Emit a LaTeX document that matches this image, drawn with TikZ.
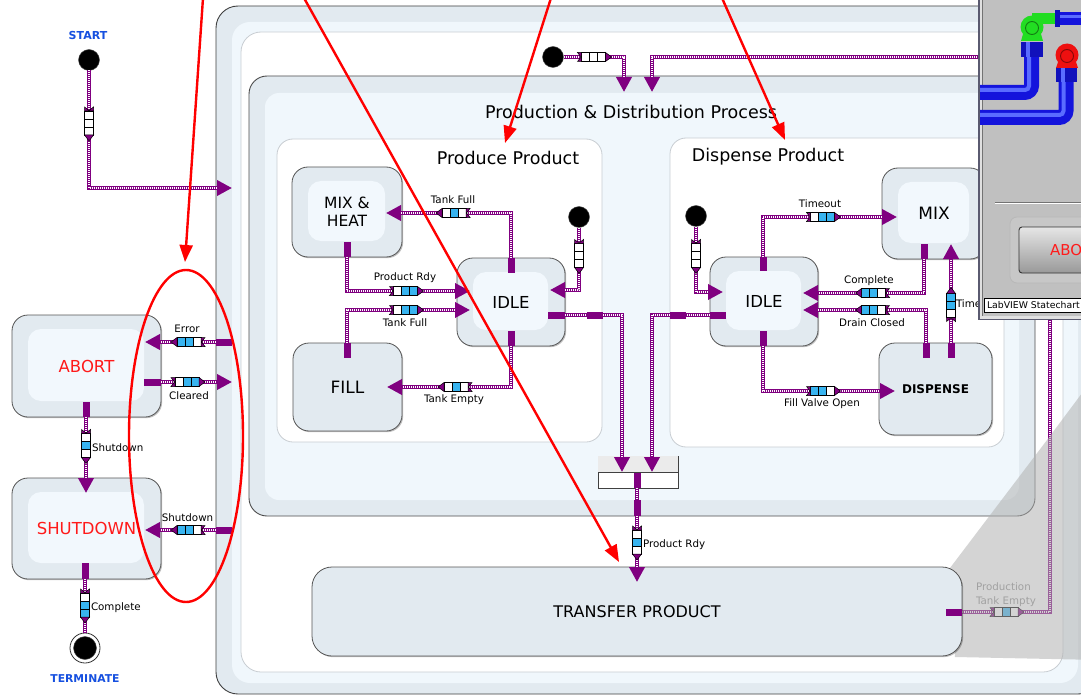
\documentclass[tikz,border=0pt]{standalone}
\usepackage{fontspec}
\setmainfont{DejaVu Sans}
\usetikzlibrary{arrows.meta,shadows}

\definecolor{wirec}{HTML}{800080}
\definecolor{bandA}{HTML}{E2EAF0}
\definecolor{bandB}{HTML}{F0F7FC}
\definecolor{rimc}{HTML}{C8CDD2}
\definecolor{stfill}{HTML}{E2EAF0}
\definecolor{stin}{HTML}{F2F8FD}
\definecolor{stline}{HTML}{555555}
\definecolor{qblue}{HTML}{38B4F0}
\definecolor{pseudoblue}{HTML}{1650E0}
\definecolor{alarm}{HTML}{FF1A1A}
\definecolor{winbg}{HTML}{C0C0C0}
\definecolor{winedge}{HTML}{5A5A70}
\definecolor{pipeblue}{HTML}{1414DC}
\definecolor{pipehi}{HTML}{5A6CFF}
\definecolor{valvegreen}{HTML}{22DD22}
\definecolor{valvered}{HTML}{EE1010}
\definecolor{markred}{HTML}{FF0000}

\newcommand\fsz[1]{\fontsize{#1}{#1}\selectfont}

\tikzset{
  every node/.style={inner sep=0pt, outer sep=0pt},
  chartstate/.style={draw=stline, fill=stfill, line width=0.8pt, rounded corners=16pt,
    align=center, font=\fsz{16.5},
    drop shadow={shadow xshift=1.2pt, shadow yshift=-1.2pt, fill=black, opacity=0.25}},
  glow/.style={path picture={\fill[stin, rounded corners=13pt]
    ([shift={(16pt,-14pt)}]path picture bounding box.north west) rectangle
    ([shift={(-17pt,16pt)}]path picture bounding box.south east);}},
  wire/.style={draw=wirec, line width=3.6pt,
    postaction={draw=white, line width=1.2pt, dash pattern=on 1pt off 1pt}},
  wirea/.style={draw=wirec, line width=3.6pt, -{Triangle[length=15pt,width=15pt]},
    postaction={draw=white, line width=1.2pt, dash pattern=on 1pt off 1pt, arrows=-, shorten >=15pt}},
  stub/.style={fill=wirec},
  lbl/.style={font=\fsz{10.3}},
  pseudodot/.style={circle, fill=black, draw=black!70, line width=0.4pt, minimum size=21pt},
  redmark/.style={draw=markred, line width=2.4pt, -{Triangle[length=17pt,width=13pt]}},
  pics/queue/.style n args={3}{code={
    \fill[#1] (-13,-4.5) rectangle (-5,4.5);
    \fill[#2] (-5,-4.5) rectangle (3,4.5);
    \fill[#3] (3,-4.5) rectangle (11,4.5);
    \draw[line width=0.6pt] (-13,-4.5) rectangle (11,4.5) (-5,-4.5) -- (-5,4.5) (3,-4.5) -- (3,4.5);
    \filldraw[fill=wirec, draw=black, line width=0.5pt] (11,-4.5) -- (17,0) -- (11,4.5) -- cycle;
    \filldraw[fill=wirec, draw=black, line width=0.5pt] (-13,-4.5) -- (-17,-4.5) -- (-13.5,0) -- (-17,4.5) -- (-13,4.5) -- cycle;
  }},
}

\begin{document}
\begin{tikzpicture}[x=1pt,y=-1pt]
\useasboundingbox (0,0) rectangle (1081,695);
\clip (0,0) rectangle (1081,695);
\fill[white] (0,0) rectangle (1081,695);

% ---------- top-level region and its nested frames ----------
\draw[fill=bandA, draw=black!75, line width=0.9pt, rounded corners=22pt] (216,6) rectangle (1100,694);
\fill[bandB, rounded corners=18pt] (232,22) rectangle (1078,683);
\draw[fill=white, draw=rimc, line width=0.8pt, rounded corners=20pt] (241,32) rectangle (1063,672);

\draw[fill=bandA, draw=black!70, line width=0.9pt, rounded corners=18pt] (249,76) rectangle (1035,516);
\fill[bandB, rounded corners=14pt] (265,93) rectangle (1019,500);
\node[font=\fsz{17.5}] (pdtitle) at (631,112) {Production \& Distribution Process};

\draw[fill=white, draw=rimc, line width=0.8pt, rounded corners=16pt] (277,139) rectangle (602,442);
\node[font=\fsz{17.5}] (pptitle) at (508,158) {Produce Product};
\draw[fill=white, draw=rimc, line width=0.8pt, rounded corners=16pt] (670,138) rectangle (1004,447);
\node[font=\fsz{17.5}] (dptitle) at (768,157) {Dispense Product};

% ---------- states ----------
\node[chartstate, glow, minimum width=149pt, minimum height=102pt, text=alarm] (abort) at (86.5,366) {ABORT};
\node[chartstate, glow, minimum width=149pt, minimum height=101pt, text=alarm] (shutdown) at (86.5,528.5) {SHUTDOWN};
\node[chartstate, glow, minimum width=110pt, minimum height=90pt, font=\fontsize{15.5}{18}\selectfont] (mixheat) at (347,212) {MIX \&\\HEAT};
\node[chartstate, minimum width=109pt, minimum height=88pt, font=\fsz{17}] (fill) at (347.5,387) {FILL};
\node[chartstate, glow, minimum width=108pt, minimum height=88pt] (pidle) at (511,302) {IDLE};
\node[chartstate, glow, minimum width=108pt, minimum height=89pt] (didle) at (764,301.5) {IDLE};
\node[chartstate, glow, minimum width=104pt, minimum height=91pt, font=\fsz{17}] (mix) at (934,213.5) {MIX};
\node[chartstate, minimum width=113pt, minimum height=92pt, font=\bfseries\fsz{12}] (dispense) at (935.5,389) {DISPENSE};

% pseudo states
\node[pseudodot] (start) at (89,60) {};
\node[text=pseudoblue, font=\bfseries\fsz{11}] (starttxt) at (88,35.5) {START};
\node[circle, draw=black!80, fill=white, minimum size=30pt, line width=0.8pt] (term) at (85,648) {};
\node[pseudodot, minimum size=23pt] (termdot) at (85,648) {};
\node[text=pseudoblue, font=\bfseries\fsz{10.8}] (termtxt) at (85,679) {TERMINATE};
\node[pseudodot] (tinit) at (553,57) {};
\node[pseudodot] (pinit) at (579,217) {};
\node[pseudodot] (dinit) at (696,216) {};

% join bar
\node[draw=black!75, line width=0.8pt, fill=white, minimum width=80pt, minimum height=32pt] (join) at (638,472) {};
\fill[black!8] ([shift={(0.4pt,-0.4pt)}]join.north west) rectangle (join.east);
\draw[black!75, line width=0.8pt] (join.west) -- (join.east);

% ---------- faded transition behind the callout ----------
\coordinate (trout) at (962,612);
\coordinate (tcorner) at (1050,57);
\coordinate (pdin2) at (652,92);
\draw[wirea] (trout) -| (tcorner) -| (pdin2);
\pic at (1007,612) {queue={white}{qblue}{white}};
\node[lbl, anchor=west, align=left, text=black!45, font=\fontsize{10.3}{14}\selectfont] (ptelbl) at (976,595) {Production\\Tank Empty};

% callout shading
\fill[black!30, fill opacity=0.55] (950,568) -- (1047,440) -- (1100,369) -- (1100,660) -- (955,657) -- cycle;

\node[chartstate, minimum width=650pt, minimum height=89pt, rounded corners=20pt, font=\fsz{16}] (transfer) at (637,611.5) {TRANSFER PRODUCT};
\fill[stub] (946,608.5) rectangle (962,615.5);

% ---------- transitions of the top level ----------
\coordinate (outerL1) at (232,188);
\draw[wirea] (start.south) |- (outerL1);
\pic[rotate=-90] at (89,124) {queue={white}{white}{white}};

\coordinate (errS) at (216,342);
\coordinate (errT) at (145,342);
\draw[wirea] (errS) -- (errT);
\fill[stub] (216,338.5) rectangle (232,345.5);
\pic[rotate=180] at (188,342) {queue={white}{qblue}{qblue}};
\node[lbl] (errlbl) at (187,329) {Error};

\coordinate (clrS) at (161,382);
\coordinate (clrT) at (232,382);
\draw[wirea] (clrS) -- (clrT);
\fill[stub] (144,378.5) rectangle (161,385.5);
\pic at (188,382) {queue={white}{qblue}{qblue}};
\node[lbl] (clrlbl) at (189,396) {Cleared};

\coordinate (abOut) at (86,417);
\coordinate (sdIn) at (86,493);
\draw[wirea] (abOut) -- (sdIn);
\fill[stub] (82.5,402) rectangle (89.5,417);
\pic[rotate=-90] at (86,446.5) {queue={white}{qblue}{white}};
\node[lbl, anchor=west] (sd1lbl) at (92,448) {Shutdown};

\coordinate (sdS) at (216,530);
\coordinate (sdT) at (145,530);
\draw[wirea] (sdS) -- (sdT);
\fill[stub] (216,526.5) rectangle (232,533.5);
\pic[rotate=180] at (188,530) {queue={white}{qblue}{qblue}};
\node[lbl] (sd2lbl) at (187.5,518) {Shutdown};

\coordinate (sdOut) at (85,579);
\draw[wire] (sdOut) -- (term.north);
\fill[stub] (81.5,563) rectangle (88.5,579);
\pic[rotate=-90] at (85,606) {queue={white}{qblue}{qblue}};
\node[lbl, anchor=west] (cpllbl) at (91,608) {Complete};

\coordinate (pdin1) at (624,92);
\draw[wirea] (tinit.east) -| (pdin1);
\pic at (594.5,57) {queue={white}{white}{white}};

% ---------- Produce Product ----------
\coordinate (piTop) at (511,258);
\coordinate (mhIn) at (386,213);
\draw[wirea] (piTop) |- (mhIn);
\fill[stub] (507.5,258) rectangle (514.5,273);
\pic[rotate=180] at (453,213) {queue={white}{qblue}{white}};
\node[lbl] (tf1lbl) at (453,200) {Tank Full};

\coordinate (mhOut) at (347,257);
\coordinate (piIn1) at (470,291);
\draw[wirea] (mhOut) |- (piIn1);
\fill[stub] (343.5,242) rectangle (350.5,257);
\pic at (406.5,291) {queue={white}{qblue}{qblue}};
\node[lbl] (prlbl) at (405,278) {Product Rdy};

\coordinate (flOut) at (347,343);
\coordinate (piIn2) at (470,310);
\draw[wirea] (flOut) |- (piIn2);
\fill[stub] (343.5,343) rectangle (350.5,358);
\pic at (406.5,310) {queue={white}{qblue}{qblue}};
\node[lbl] (tf2lbl) at (405,323) {Tank Full};

\coordinate (piBot) at (511,346);
\coordinate (flIn) at (387,387);
\draw[wirea] (piBot) |- (flIn);
\fill[stub] (507.5,331) rectangle (514.5,346);
\pic[rotate=180] at (455,387) {queue={white}{qblue}{white}};
\node[lbl] (telbl) at (454,400) {Tank Empty};

\coordinate (piIn3) at (550,290);
\draw[wirea] (pinit.south) |- (piIn3);
\pic[rotate=-90] at (579,256.5) {queue={white}{white}{white}};

\coordinate (piRight) at (565,315);
\coordinate (joinIn1) at (622,472);
\draw[wirea] (piRight) -| (joinIn1);
\fill[stub] (548,311.5) rectangle (565,318.5);
\fill[stub] (587,311.5) rectangle (603,318.5);

% ---------- Dispense Product ----------
\coordinate (diIn1) at (723,292);
\draw[wirea] (dinit.south) |- (diIn1);
\pic[rotate=-90] at (696,256.5) {queue={white}{white}{white}};

\coordinate (diTop) at (763,257);
\coordinate (mxIn1) at (897,217);
\draw[wirea] (diTop) |- (mxIn1);
\fill[stub] (759.5,257) rectangle (766.5,271);
\pic at (823.5,217) {queue={white}{qblue}{qblue}};
\node[lbl] (tolbl) at (820,204) {Timeout};

\coordinate (mxOut) at (924,259);
\coordinate (diIn2) at (803,293);
\draw[wirea] (mxOut) |- (diIn2);
\fill[stub] (920.5,244) rectangle (927.5,259);
\pic[rotate=180] at (872.5,293) {queue={white}{qblue}{qblue}};
\node[lbl] (dcpllbl) at (869,281) {Complete};

\coordinate (dsOut1) at (926,343);
\coordinate (diIn3) at (803,310);
\draw[wirea] (dsOut1) |- (diIn3);
\fill[stub] (922.5,343) rectangle (929.5,358);
\pic[rotate=180] at (872.5,310) {queue={white}{qblue}{qblue}};
\node[lbl] (dclbl) at (872,323) {Drain Closed};

\coordinate (dsOut2) at (951,343);
\coordinate (mxIn2) at (951,244);
\draw[wirea] (dsOut2) -- (mxIn2);
\fill[stub] (947.5,343) rectangle (954.5,358);
\pic[rotate=90] at (951,304.5) {queue={white}{qblue}{qblue}};
\node[lbl, anchor=west] (to2lbl) at (956,304) {Timeout};

\coordinate (diBot) at (763,346);
\coordinate (dsIn) at (895,391);
\draw[wirea] (diBot) |- (dsIn);
\fill[stub] (759.5,331) rectangle (766.5,346);
\pic at (823.5,391) {queue={qblue}{qblue}{white}};
\node[lbl] (fvlbl) at (822,404) {Fill Valve Open};

\coordinate (diLeft) at (710,315);
\coordinate (joinIn2) at (652,472);
\draw[wirea] (diLeft) -| (joinIn2);
\fill[stub] (710,311.5) rectangle (726,318.5);
\fill[stub] (670,311.5) rectangle (686,318.5);

% ---------- join to transfer ----------
\coordinate (joinOut) at (637,488);
\coordinate (trIn) at (637,582);
\draw[wirea] (joinOut) -- (trIn);
\fill[stub] (633.5,473) rectangle (640.5,488);
\fill[stub] (633.5,500) rectangle (640.5,516);
\pic[rotate=-90] at (637,543) {queue={white}{qblue}{white}};
\node[lbl, anchor=west] (pr2lbl) at (643,545) {Product Rdy};

% ---------- red annotations ----------
\draw[redmark] (203,-2) -- (185,262);
\draw[redmark] (304,-2) -- (619,562);
\draw[redmark] (551,-2) -- (505,143);
\draw[redmark] (722,-2) -- (785,140);
\draw[markred, line width=2.4pt] (186,436) ellipse [x radius=57, y radius=166];

% ---------- front panel window ----------
\fill[winedge] (977.5,-5) rectangle (1100,320);
\fill[black!12] (979.5,-5) rectangle (1100,318.5);
\fill[winbg] (982.5,-5) rectangle (1100,316);
\draw[black!55, line width=0.8pt] (982.5,-5) -- (982.5,316);

% pipes
\draw[pipeblue, line width=15pt, rounded corners=7pt] (980,92.5) -- (1031.5,92.5) -- (1031.5,55);
\draw[pipehi, line width=4pt, rounded corners=4pt] (980,90) -- (1029,90) -- (1029,55);
\draw[pipeblue, line width=15pt, rounded corners=7pt] (980,117.5) -- (1066,117.5) -- (1066,80);
\draw[pipehi, line width=4pt, rounded corners=4pt] (980,115) -- (1063.5,115) -- (1063.5,80);
\fill[pipeblue!85!black] (1021,42) rectangle (1043,57);
\fill[pipehi] (1026,42) rectangle (1030,57);
\fill[pipeblue!85!black] (1056,67) rectangle (1077,82);
\fill[pipehi] (1061,67) rectangle (1065,82);
\fill[valvegreen] (1032,13) rectangle (1057,24);
\fill[pipeblue] (1057,12) rectangle (1100,25);
\fill[pipehi] (1057,15) rectangle (1100,18);
\fill[pipeblue!85!black] (1055,10) rectangle (1060,27);
\fill[valvegreen] (1023,34) -- (1041,34) -- (1043,41) -- (1021,41) -- cycle;
\fill[valvegreen] (1032,27) circle (11.5);
\draw[valvegreen!55!black, line width=0.9pt] (1032,28) circle (6.5);
\fill[valvered] (1058,62) -- (1076,62) -- (1078,68) -- (1056,68) -- cycle;
\fill[valvered] (1067,55) circle (11.5);
\draw[valvered!55!black, line width=0.9pt] (1067,56) circle (6.5);

% divider and button
\draw[black!55, line width=0.8pt] (995,202) -- (1100,202);
\draw[white, line width=0.8pt] (995,203.2) -- (1100,203.2);
\draw[draw=black!28, fill=black!22, rounded corners=7pt, line width=0.8pt] (1010,217) rectangle (1110,283);
\shadedraw[top color=black!10, bottom color=black!40, draw=black!80, rounded corners=3pt, line width=0.9pt] (1019,227) rectangle (1110,273);
\node[text=alarm, font=\fsz{15}, anchor=west] (abtn) at (1050,250.5) {ABORT};

% status bar
\draw[fill=white, draw=black, line width=0.7pt] (984,298) rectangle (1100,312);
\node[font=\fsz{9.3}, anchor=west] (status) at (987,305.5) {LabVIEW Statechart};
\end{tikzpicture}
\end{document}
